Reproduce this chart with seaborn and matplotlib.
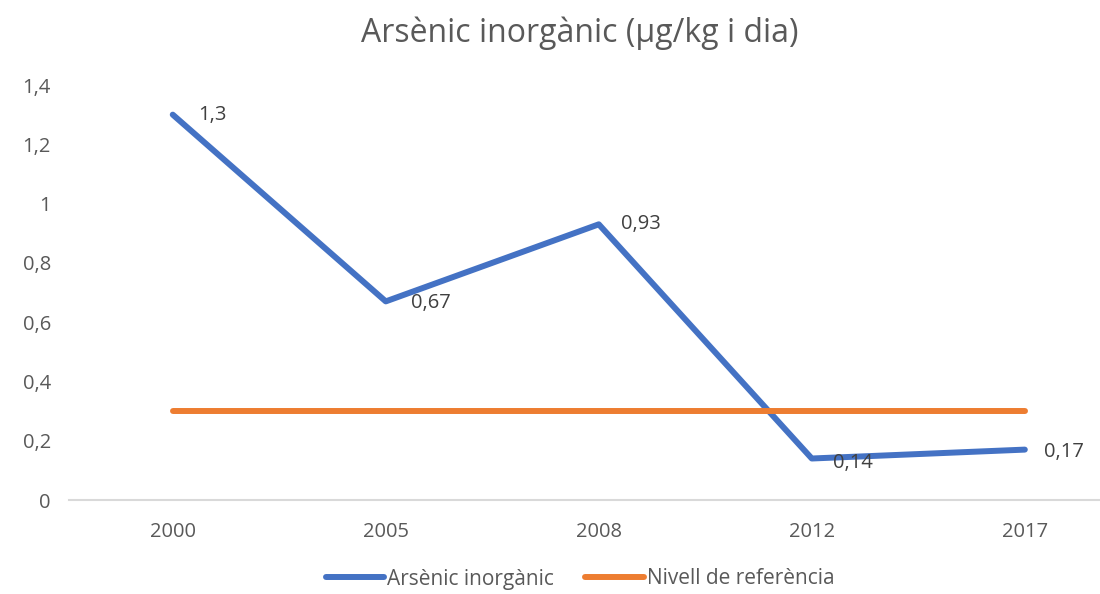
import matplotlib.pyplot as plt
import seaborn as sns
import pandas as pd

years = ["2000", "2005", "2008", "2012", "2017"]
arsenic = [1.3, 0.67, 0.93, 0.14, 0.17]
reference = [0.3, 0.3, 0.3, 0.3, 0.3]
labels = ["1,3", "0,67", "0,93", "0,14", "0,17"]

BLUE = "#4472C4"
ORANGE = "#ED7D31"
TXT = "#595959"

sns.set_style("white")
plt.rcParams["font.family"] = ["Open Sans", "DejaVu Sans"]

df = pd.DataFrame({"pos": range(len(years)), "Arsènic inorgànic": arsenic,
                   "Nivell de referència": reference})
long = df.melt(id_vars="pos", var_name="serie", value_name="valor")

fig = plt.figure(figsize=(11, 5.94), dpi=100)
ax = fig.add_axes([69 / 1100, 94 / 594, 1 - 69 / 1100, 415 / 594])

sns.lineplot(data=long, x="pos", y="valor", hue="serie",
             palette=[BLUE, ORANGE], linewidth=4.3, ax=ax,
             solid_capstyle="round")

# data labels, right of each point
offsets = [(18, 0), (18, -1), (16, 0), (15, -3), (14, -2)]
for i, (v, lab) in enumerate(zip(arsenic, labels)):
    ax.annotate(lab, (i, v), xytext=offsets[i], textcoords="offset points",
                ha="left", va="center", fontsize=14.5, color="#404040")

ax.set_xlim(-0.487, (1100 - 175) / 212.5)
ax.set_ylim(0, 1.4)
ax.set_xticks(range(len(years)))
ax.set_xticklabels(years)
ax.set_yticks([0, 0.2, 0.4, 0.6, 0.8, 1, 1.2, 1.4])
ax.set_yticklabels(["0", "0,2", "0,4", "0,6", "0,8", "1", "1,2", "1,4"])
ax.tick_params(axis="both", length=0, labelsize=14.5, colors=TXT)
ax.tick_params(axis="x", pad=16)
ax.tick_params(axis="y", pad=13)
ax.set_xlabel("")
ax.set_ylabel("")
for s in ["top", "right", "left"]:
    ax.spines[s].set_visible(False)
ax.spines["bottom"].set_color("#D9D9D9")
ax.spines["bottom"].set_linewidth(1.5)

fig.text(580 / 1100, 1 - 33 / 594, "Arsènic inorgànic (µg/kg i dia)",
         ha="center", va="center", fontsize=23, color=TXT)

leg = ax.legend(loc="center", bbox_to_anchor=(580 / 1100, 15 / 594),
                bbox_transform=fig.transFigure, ncol=2, frameon=False,
                fontsize=15, handlelength=2.8, handletextpad=0.15,
                columnspacing=1.5, labelcolor=TXT, borderpad=0.2)
for h in leg.get_lines():
    h.set_linewidth(4.3)

fig.savefig("out.png", dpi=100)
